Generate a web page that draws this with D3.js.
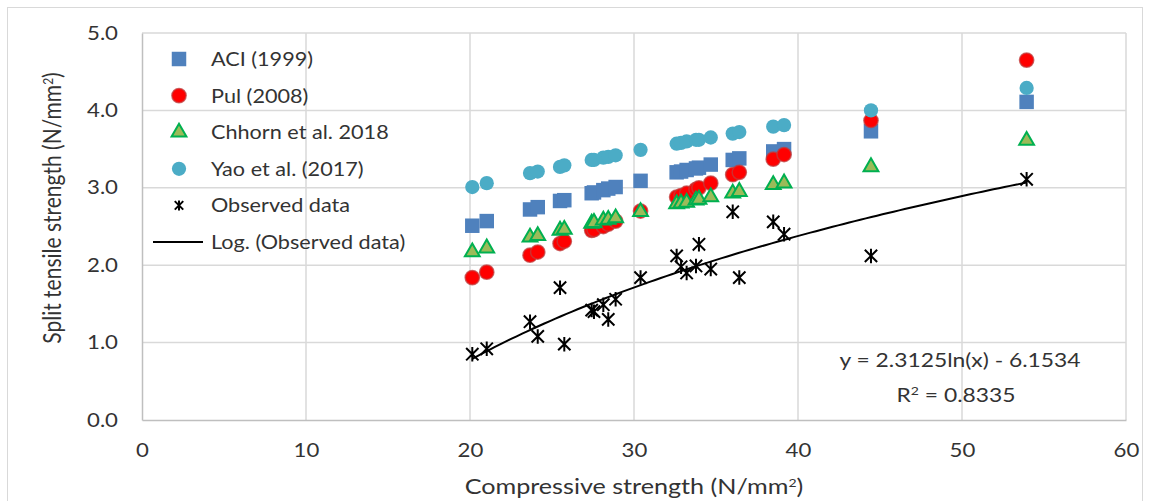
<!DOCTYPE html>
<html>
<head>
<meta charset="utf-8">
<script src="https://cdn.jsdelivr.net/npm/d3@7"></script>
<style>
  body { margin: 0; background: #fff; }
  svg text { font-family: Lato, "Open Sans", sans-serif; fill: #333; }
</style>
</head>
<body>
<div class="svg-container"></div>
<script>
// Data
const compressive = [20.14, 21.02, 23.66, 24.13, 25.49, 25.75, 27.42, 27.56, 28.13, 28.43, 28.88, 30.4,
                     32.6, 32.87, 33.21, 33.78, 33.96, 34.68, 36.02, 36.42, 38.49, 39.15, 44.45, 53.94];
const aci = [2.51, 2.57, 2.72, 2.75, 2.83, 2.84, 2.93, 2.94, 2.97, 2.99, 3.01, 3.09,
             3.20, 3.21, 3.23, 3.25, 3.26, 3.30, 3.36, 3.38, 3.47, 3.50, 3.73, 4.11];
const pul = [1.84, 1.91, 2.13, 2.17, 2.28, 2.31, 2.45, 2.46, 2.50, 2.53, 2.57, 2.70,
             2.88, 2.90, 2.93, 2.98, 3.00, 3.06, 3.17, 3.20, 3.37, 3.43, 3.87, 4.65];
const chhorn = [2.17, 2.22, 2.36, 2.38, 2.45, 2.46, 2.54, 2.55, 2.58, 2.59, 2.61, 2.69,
                2.79, 2.80, 2.81, 2.84, 2.85, 2.88, 2.93, 2.95, 3.04, 3.06, 3.27, 3.61];
const yao = [3.01, 3.06, 3.19, 3.21, 3.27, 3.29, 3.36, 3.36, 3.39, 3.40, 3.42, 3.49,
             3.57, 3.58, 3.60, 3.62, 3.62, 3.65, 3.70, 3.72, 3.79, 3.81, 4.00, 4.29];
const observed = [0.85, 0.92, 1.27, 1.08, 1.71, 0.98, 1.42, 1.40, 1.49, 1.30, 1.56, 1.84,
                  2.12, 1.98, 1.90, 1.99, 2.27, 1.95, 2.69, 1.84, 2.56, 2.40, 2.12, 3.11];
const seriesNames = ['ACI (1999)', 'Pul (2008)', 'Chhorn et al. 2018', 'Yao et al.  (2017)', 'Observed data', 'Log. (Observed data)'];
const xTicks = [0, 10, 20, 30, 40, 50, 60];
const yTicks = [0, 1, 2, 3, 4, 5];
// trendline from the chart label
const trendA = 2.3125, trendB = -6.1534, trendR2 = 0.8335;

const W = 1150, H = 501;
const M = { left: 142, right: 1126, top: 33, bottom: 420 };
const SX = 1.17; // the picture's text is a bit stretched sideways

const svg = d3.select('.svg-container').append('svg')
    .attr('width', W).attr('height', H);

svg.append('rect')
    .attr('x', 7.5).attr('y', 7.5)
    .attr('width', 1135).attr('height', 505)
    .attr('fill', '#fff').attr('stroke', '#d9d9d9');

const x = d3.scaleLinear().domain([0, 60]).range([M.left, M.right]);
const y = d3.scaleLinear().domain([0, 5]).range([M.bottom, M.top]);

// Grid
const grid = svg.append('g');
grid.selectAll('.vg').data(xTicks.slice(1)).enter().append('line')
    .attr('x1', d => x(d)).attr('x2', d => x(d))
    .attr('y1', M.top).attr('y2', M.bottom)
    .attr('stroke', '#d9d9d9').attr('stroke-width', 1.5);
grid.selectAll('.hg').data(yTicks.slice(1)).enter().append('line')
    .attr('x1', M.left).attr('x2', M.right)
    .attr('y1', d => y(d)).attr('y2', d => y(d))
    .attr('stroke', '#d9d9d9').attr('stroke-width', 1.5);

// Axes
const xAxis = svg.append('g').attr('transform', `translate(0,${M.bottom})`)
    .call(d3.axisBottom(x).tickValues(xTicks).tickSize(0).tickPadding(24).tickFormat(d3.format('d')));
const yAxis = svg.append('g').attr('transform', `translate(${M.left},0)`)
    .call(d3.axisLeft(y).tickValues(yTicks).tickSize(0).tickPadding(24 / SX).tickFormat(d3.format('.1f')));
[xAxis, yAxis].forEach(a => {
    a.select('.domain').attr('stroke', '#bfbfbf').attr('stroke-width', 1.5);
    a.selectAll('text')
        .style('font-size', '19px').attr('fill', '#333').style('font-family', 'Lato, sans-serif')
        .attr('transform', `scale(${SX},1)`);
});

const sup = '<tspan dy="-7" font-size="12">2</tspan>';

// Axis titles
svg.append('text')
    .attr('transform', `translate(${(M.left + M.right) / 2},494) scale(${SX},1)`)
    .attr('text-anchor', 'middle').style('font-size', '21.5px')
    .html(`Compressive strength (N/mm${sup}<tspan dy="7">)</tspan>`);
svg.append('text')
    .attr('transform', `translate(61,208) rotate(-90) scale(1,${SX})`)
    .attr('text-anchor', 'middle').style('font-size', '21px')
    .html(`Split tensile strength (N/mm${sup}<tspan dy="7">)</tspan>`);

// Marker symbols
const starSym = {
    draw(ctx, size) {
        const r = Math.sqrt(size) / 2;
        ctx.moveTo(0, -r); ctx.lineTo(0, r);
        ctx.moveTo(-r * 0.85, -r * 0.85); ctx.lineTo(r * 0.85, r * 0.85);
        ctx.moveTo(r * 0.85, -r * 0.85); ctx.lineTo(-r * 0.85, r * 0.85);
    }
};
const styles = [
    { values: aci, sym: d3.symbolSquare, size: 210, legSize: 210, fill: '#4f81bd', stroke: 'none', sw: 0 },
    { values: pul, sym: d3.symbolCircle, size: 160, legSize: 160, fill: '#ff0000', stroke: 'rgba(192,60,60,0.75)', sw: 1.5 },
    { values: chhorn, sym: d3.symbolTriangle, size: 95, legSize: 95, fill: '#9bbb59', stroke: '#00b050', sw: 2 },
    { values: yao, sym: d3.symbolCircle, size: 160, legSize: 160, fill: '#4bacc6', stroke: 'none', sw: 0 },
    { values: observed, sym: starSym, size: 210, legSize: 100, fill: 'none', stroke: '#000', sw: 2 }
];

styles.forEach(s => {
    svg.append('g').selectAll('path')
        .data(compressive.map((c, i) => [c, s.values[i]]))
        .enter().append('path')
        .attr('transform', d => `translate(${x(d[0])},${y(d[1])})`)
        .attr('d', d3.symbol().type(s.sym).size(s.size))
        .attr('fill', s.fill).attr('stroke', s.stroke).attr('stroke-width', s.sw);
});

// Log trendline over observed range
const xMin = d3.min(compressive), xMax = d3.max(compressive);
const trend = d3.range(0, 101).map(i => {
    const c = xMin + (xMax - xMin) * i / 100;
    return [c, trendA * Math.log(c) + trendB];
});
svg.append('path')
    .attr('d', d3.line().x(d => x(d[0])).y(d => y(d[1]))(trend))
    .attr('fill', 'none').attr('stroke', '#000').attr('stroke-width', 2);

// Trendline label
svg.append('text').attr('transform', `translate(960,367) scale(${SX},1)`).attr('text-anchor', 'middle')
    .style('font-size', '19.5px').text(`y = ${trendA}ln(x) - ${Math.abs(trendB)}`);
svg.append('text').attr('transform', `translate(956,402) scale(${SX},1)`).attr('text-anchor', 'middle')
    .style('font-size', '19.5px')
    .html(`R${sup}<tspan dy="7"> = ${trendR2}</tspan>`);

// Legend
const legend = svg.append('g').attr('transform', 'translate(179,59)');
const rowH = 36.6;
seriesNames.forEach((name, i) => {
    const row = legend.append('g').attr('transform', `translate(0,${i * rowH})`);
    if (i < styles.length) {
        const s = styles[i];
        row.append('path')
            .attr('d', d3.symbol().type(s.sym).size(s.legSize))
            .attr('fill', s.fill).attr('stroke', s.stroke).attr('stroke-width', s.sw);
    } else {
        row.append('line').attr('x1', -26).attr('x2', 24).attr('y1', 0).attr('y2', 0)
            .attr('stroke', '#000').attr('stroke-width', 2);
    }
    row.append('text').attr('transform', `translate(32,7) scale(${SX},1)`)
        .style('font-size', '18.5px').text(name);
});
</script>
</body>
</html>
